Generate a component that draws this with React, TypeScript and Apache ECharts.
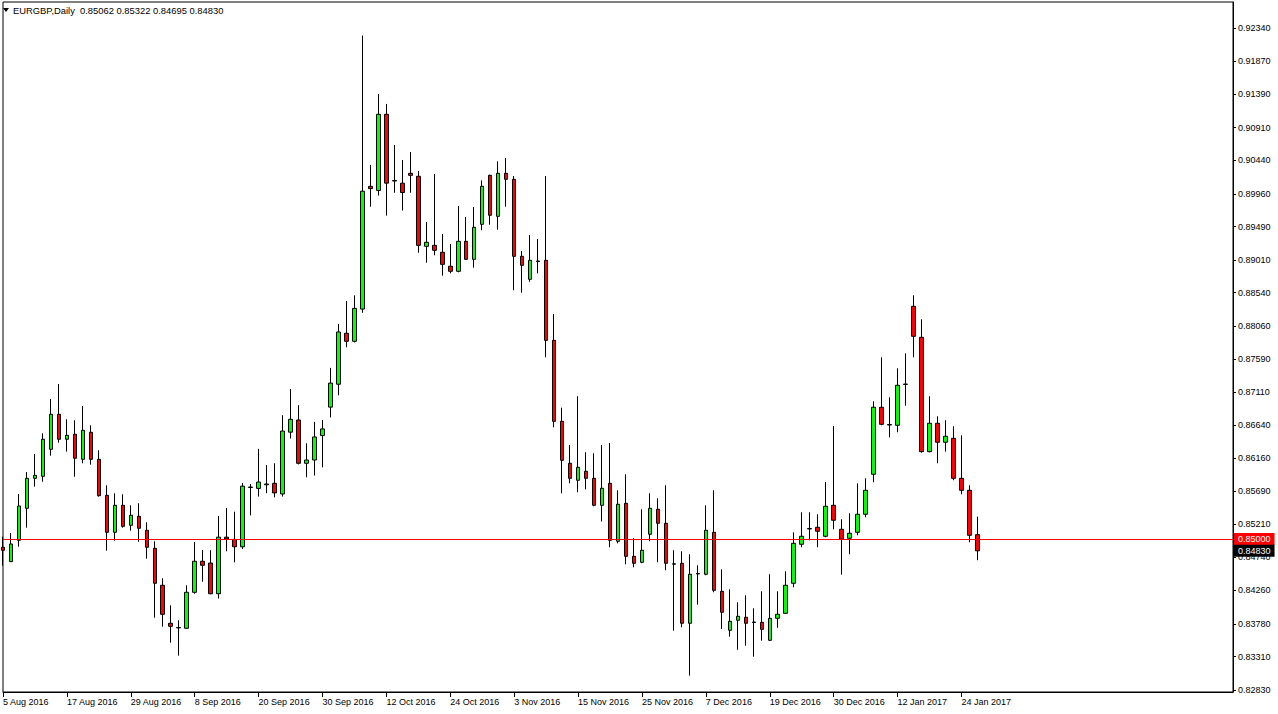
import React, { useEffect, useRef } from "react";
import * as echarts from "echarts";

const SYMBOL = "EURGBP";
const PERIOD = "Daily";

const DATES = [
  "2016-08-05","2016-08-08","2016-08-09","2016-08-10","2016-08-11","2016-08-12","2016-08-15","2016-08-16","2016-08-17","2016-08-18","2016-08-19","2016-08-22","2016-08-23","2016-08-24","2016-08-25","2016-08-26","2016-08-29","2016-08-30","2016-08-31",
  "2016-09-01","2016-09-02","2016-09-05","2016-09-06","2016-09-07","2016-09-08","2016-09-09","2016-09-12","2016-09-13","2016-09-14","2016-09-15","2016-09-16","2016-09-19","2016-09-20","2016-09-21","2016-09-22","2016-09-23","2016-09-26","2016-09-27","2016-09-28","2016-09-29","2016-09-30",
  "2016-10-03","2016-10-04","2016-10-05","2016-10-06","2016-10-07","2016-10-10","2016-10-11","2016-10-12","2016-10-13","2016-10-14","2016-10-17","2016-10-18","2016-10-19","2016-10-20","2016-10-21","2016-10-24","2016-10-25","2016-10-26","2016-10-27","2016-10-28","2016-10-31",
  "2016-11-01","2016-11-02","2016-11-03","2016-11-04","2016-11-07","2016-11-08","2016-11-09","2016-11-10","2016-11-11","2016-11-14","2016-11-15","2016-11-16","2016-11-17","2016-11-18","2016-11-21","2016-11-22","2016-11-23","2016-11-24","2016-11-25","2016-11-28","2016-11-29","2016-11-30",
  "2016-12-01","2016-12-02","2016-12-05","2016-12-06","2016-12-07","2016-12-08","2016-12-09","2016-12-12","2016-12-13","2016-12-14","2016-12-15","2016-12-16","2016-12-19","2016-12-20","2016-12-21","2016-12-22","2016-12-23","2016-12-27","2016-12-28","2016-12-29","2016-12-30",
  "2017-01-03","2017-01-04","2017-01-05","2017-01-06","2017-01-09","2017-01-10","2017-01-11","2017-01-12","2017-01-13","2017-01-16","2017-01-17","2017-01-18","2017-01-19","2017-01-20","2017-01-23","2017-01-24","2017-01-25","2017-01-26",
];

const OPEN = [
  0.84881,0.84674,0.84981,0.85441,0.85872,0.85901,0.86289,0.86792,0.86433,0.86505,
  0.86145,0.86533,0.86145,0.85628,0.85096,0.85484,0.85197,0.85326,0.85125,0.84866,
  0.84335,0.83789,0.83722,0.83717,0.84234,0.84680,0.84654,0.84213,0.85026,0.84994,
  0.84888,0.85740,0.85727,0.85779,0.85800,0.85647,0.86535,0.86710,0.86088,0.86135,
  0.86486,0.86895,0.87224,0.87957,0.87841,0.88304,0.90067,0.90009,0.91103,0.90144,
  0.90113,0.90255,0.90212,0.89206,0.89220,0.89120,0.88919,0.88847,0.89278,0.89019,
  0.89522,0.90226,0.89637,0.90255,0.90169,0.89062,0.88732,0.88988,0.89005,0.87855,
  0.86691,0.86088,0.85844,0.85973,0.85872,0.85484,0.85800,0.84967,0.85513,0.84751,
  0.84665,0.85068,0.85427,0.85226,0.84638,0.84651,0.83789,0.84504,0.84493,0.85096,
  0.84248,0.83688,0.83832,0.83875,0.83800,0.83803,0.83544,0.83860,0.83932,0.84363,
  0.84924,0.85144,0.85168,0.85039,0.85484,0.85139,0.85010,0.85096,0.85355,0.85930,
  0.86893,0.86645,0.86634,0.87220,0.88344,0.87898,0.86255,0.86663,0.86390,0.86447,
  0.85872,0.85700,0.85062,
];

const HIGH = [
  0.85033,0.85086,0.85647,0.85963,0.86221,0.86519,0.87012,0.87227,0.86720,0.86706,
  0.86911,0.86634,0.86275,0.85772,0.85657,0.85642,0.85484,0.85513,0.85240,0.84967,
  0.84435,0.84047,0.83832,0.84335,0.84957,0.84842,0.84839,0.85328,0.85445,0.85392,
  0.85806,0.85790,0.86295,0.86062,0.86088,0.86779,0.87156,0.86923,0.86375,0.86683,
  0.86710,0.87459,0.88091,0.88420,0.88501,0.92235,0.90376,0.91395,0.91252,0.90662,
  0.90446,0.90561,0.90288,0.89555,0.90245,0.89383,0.89239,0.89785,0.89627,0.89771,
  0.90154,0.90235,0.90428,0.90475,0.90216,0.89139,0.89368,0.89311,0.90216,0.88233,
  0.86887,0.86351,0.87051,0.86246,0.86232,0.86351,0.86380,0.85700,0.85930,0.85010,
  0.85427,0.85657,0.85585,0.85772,0.84838,0.84823,0.84780,0.84622,0.85484,0.85700,
  0.84565,0.84277,0.84090,0.84191,0.84004,0.84248,0.84493,0.84248,0.84536,0.85096,
  0.85384,0.85384,0.85355,0.85819,0.86624,0.85283,0.85369,0.85800,0.85872,0.86979,
  0.87611,0.87036,0.87453,0.87668,0.88502,0.88157,0.87051,0.86763,0.86706,0.86620,
  0.86490,0.85772,0.85322,
];

const LOW = [
  0.84616,0.84669,0.84889,0.85162,0.85752,0.85823,0.86197,0.86384,0.86255,0.85895,
  0.86088,0.86068,0.85608,0.84832,0.84976,0.85162,0.85119,0.84961,0.84717,0.83869,
  0.83740,0.83510,0.83323,0.83712,0.84214,0.84386,0.84205,0.84144,0.84823,0.84664,
  0.84856,0.85339,0.85609,0.85658,0.85599,0.85609,0.86444,0.86072,0.85887,0.85912,
  0.86029,0.86747,0.87065,0.87756,0.87825,0.88250,0.89775,0.89935,0.89647,0.89976,
  0.89721,0.89976,0.89114,0.88970,0.89077,0.88784,0.88818,0.88833,0.89010,0.88899,
  0.89436,0.89517,0.89445,0.89775,0.88574,0.88539,0.88697,0.88818,0.87611,0.86605,
  0.85657,0.85800,0.85671,0.85714,0.85470,0.85251,0.84881,0.84938,0.84636,0.84593,
  0.84651,0.84967,0.84665,0.84550,0.83682,0.83731,0.83036,0.84056,0.84478,0.84234,
  0.83707,0.83596,0.83409,0.83467,0.83309,0.83539,0.83535,0.83725,0.83925,0.84306,
  0.84881,0.84981,0.84881,0.85024,0.85139,0.84487,0.84780,0.85053,0.85312,0.85815,
  0.86634,0.86461,0.86533,0.86916,0.87611,0.86240,0.86245,0.86088,0.86255,0.85844,
  0.85642,0.84953,0.84695,
];

const CLOSE = [
  0.84838,0.84928,0.85474,0.85872,0.85915,0.86433,0.86792,0.86433,0.86490,0.86160,
  0.86562,0.86145,0.85622,0.85096,0.85484,0.85182,0.85341,0.85154,0.84881,0.84363,
  0.83918,0.83745,0.83728,0.84234,0.84680,0.84622,0.84213,0.85026,0.85000,0.84888,
  0.85759,0.85747,0.85818,0.85790,0.85662,0.86551,0.86720,0.86088,0.86135,0.86466,
  0.86582,0.87240,0.87975,0.87841,0.88314,0.89998,0.90035,0.91103,0.90114,0.90152,
  0.89979,0.90226,0.89220,0.89264,0.89149,0.88947,0.88847,0.89278,0.89019,0.89479,
  0.90068,0.89652,0.90255,0.90169,0.89062,0.88933,0.89005,0.88995,0.87855,0.86691,
  0.86131,0.85872,0.86030,0.85872,0.85484,0.85729,0.84981,0.85499,0.84751,0.84651,
  0.84838,0.85441,0.85226,0.84651,0.84644,0.83789,0.84493,0.84497,0.85125,0.84263,
  0.83947,0.83817,0.83889,0.83789,0.83807,0.83702,0.83860,0.83918,0.84335,0.84938,
  0.85039,0.85151,0.85111,0.85470,0.85269,0.84996,0.85082,0.85355,0.85700,0.86893,
  0.86648,0.86638,0.87209,0.87227,0.87913,0.86255,0.86663,0.86390,0.86476,0.85872,
  0.85700,0.85053,0.84830,
];

const Y_TICKS = [
  0.8283, 0.8331, 0.8378, 0.8426, 0.8474, 0.8521, 0.8569, 0.8616, 0.8664, 0.8711,
  0.8759, 0.8806, 0.8854, 0.8901, 0.8949, 0.8996, 0.9044, 0.9091, 0.9139, 0.9187, 0.9234,
];

const Y_MIN = 0.82801;
const Y_MAX = 0.92717;
const LINE_LEVEL = 0.85;
const EMPTY_SLOTS = 32;
const LABEL_EVERY = 8;
const MONTHS = ["Jan","Feb","Mar","Apr","May","Jun","Jul","Aug","Sep","Oct","Nov","Dec"];

const FONT = "Tahoma, 'Liberation Sans', Arial, sans-serif";

function fmtDate(s: string): string {
  const [y, m, d] = s.split("-");
  return `${Number(d)} ${MONTHS[Number(m) - 1]} ${y}`;
}

export default function App() {
  const ref = useRef<HTMLDivElement>(null);

  useEffect(() => {
    if (!ref.current) return;
    const chart = echarts.init(ref.current, null, { renderer: "svg" });
    const n = DATES.length;
    const last = n - 1;
    const cats = [...DATES, ...Array.from({ length: EMPTY_SLOTS }, (_, k) => `pad${k}`)];
    const data = DATES.map((_, i) => [OPEN[i], CLOSE[i], LOW[i], HIGH[i]]);
    const showIdx = (i: number) => i < n && i % LABEL_EVERY === 0;
    const header = `${SYMBOL},${PERIOD}  ${[OPEN, HIGH, LOW, CLOSE]
      .map((a) => a[last].toFixed(5))
      .join(" ")}`;

    const priceLabel = (text: string, bg: string) => ({
      show: true,
      position: "end",
      distance: 1,
      formatter: () => text,
      backgroundColor: bg,
      color: "#fff",
      padding: [2, 4, 1, 4],
      fontSize: 9,
      fontFamily: FONT,
    });

    chart.setOption({
      animation: false,
      backgroundColor: "#ffffff",
      textStyle: { fontFamily: FONT },
      grid: {
        left: 0,
        right: 45,
        top: 2,
        bottom: 22,
        show: true,
        borderColor: "#000",
        borderWidth: 1,
        backgroundColor: "#fff",
      },
      xAxis: {
        type: "category",
        data: cats,
        boundaryGap: false,
        axisLine: { show: true, lineStyle: { color: "#000", width: 1 } },
        axisTick: {
          show: true,
          interval: (i: number) => showIdx(i),
          length: 5,
          lineStyle: { color: "#000" },
        },
        axisLabel: {
          interval: (i: number) => showIdx(i),
          formatter: (v: string) => (v.startsWith("pad") ? "" : fmtDate(v)),
          align: "left",
          margin: 5,
          color: "#000",
          fontSize: 9,
          fontFamily: FONT,
        },
        splitLine: { show: false },
      },
      yAxis: {
        type: "value",
        position: "right",
        min: Y_MIN,
        max: Y_MAX,
        axisLine: { show: true, lineStyle: { color: "#000", width: 1 } },
        axisTick: {
          show: true,
          length: 3,
          customValues: Y_TICKS,
          lineStyle: { color: "#000" },
        },
        axisLabel: {
          customValues: Y_TICKS,
          formatter: (v: number) => v.toFixed(5),
          margin: 5,
          color: "#000",
          fontSize: 9,
          fontFamily: FONT,
        },
        splitLine: { show: false },
      },
      series: [
        {
          type: "candlestick",
          data,
          barWidth: 4,
          itemStyle: {
            color: "#00ff00",
            color0: "#ff0000",
            borderColor: "#000",
            borderColor0: "#000",
            borderColorDoji: "#000",
            borderWidth: 1,
          },
          markLine: {
            silent: true,
            symbol: ["none", "none"],
            animation: false,
            precision: 5,
            data: [
              {
                yAxis: LINE_LEVEL,
                lineStyle: { color: "#ff0000", width: 1, type: "solid" },
                label: priceLabel(LINE_LEVEL.toFixed(5), "#ff0000"),
              },
              {
                yAxis: CLOSE[last],
                lineStyle: { color: "rgba(0,0,0,0)", width: 1, type: "solid" },
                label: priceLabel(CLOSE[last].toFixed(5), "#000"),
              },
            ],
          },
        },
      ],
      graphic: [
        {
          type: "polygon",
          shape: { points: [[3, 8], [9, 8], [6, 12]] },
          style: { fill: "#000" },
          z: 100,
        },
        {
          type: "text",
          x: 13,
          y: 10,
          z: 100,
          style: {
            text: header,
            fill: "#000",
            fontSize: 9.4,
            fontFamily: FONT,
            verticalAlign: "middle",
          },
        },
      ],
    });

    return () => chart.dispose();
  }, []);

  return (
    <div
      ref={ref}
      style={{ position: "absolute", left: 0, top: 0, width: 1278, height: 714, background: "#fff" }}
    />
  );
}
